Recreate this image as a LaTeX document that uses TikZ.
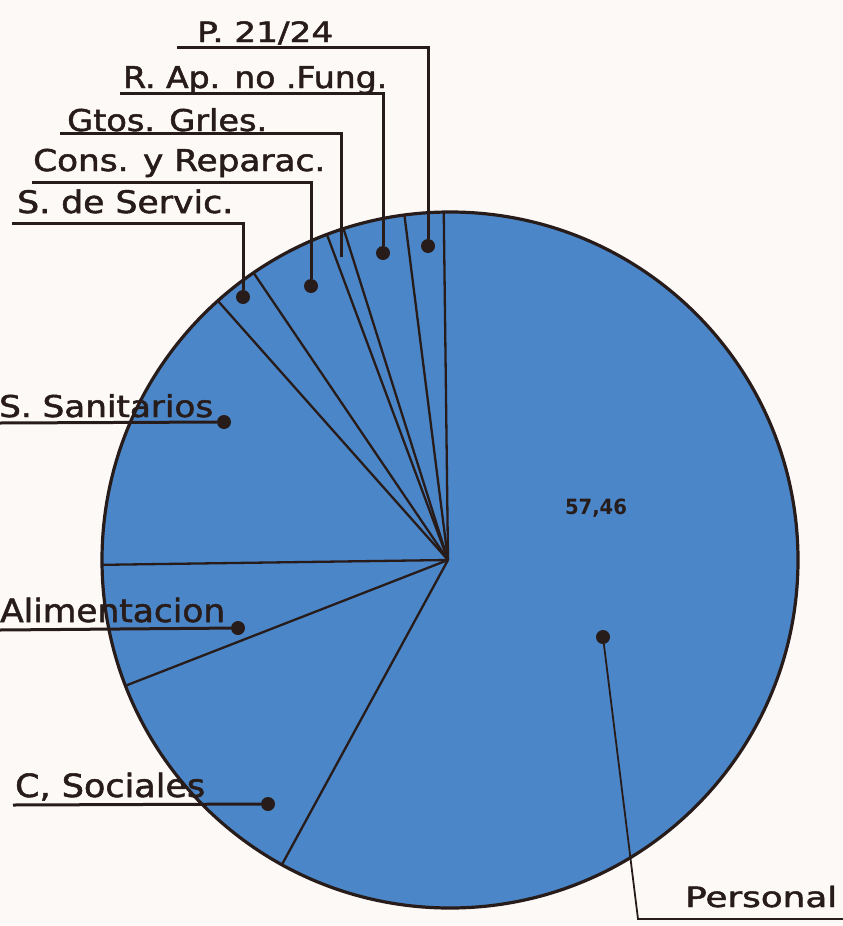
\documentclass[tikz,border=0pt]{standalone}
\usepackage{fontspec}
\setmainfont{DejaVu Sans}
\newfontfamily\labfont[FakeBold=1.6]{DejaVu Sans}
\usepackage{graphicx}
\definecolor{pieblue}{RGB}{74,134,200}
\definecolor{ink}{RGB}{40,28,26}
\definecolor{paper}{RGB}{252,249,247}
\newcommand{\lab}[3]{\resizebox{#2}{\height}{\labfont\fontsize{#1}{#1}\selectfont #3}}
\begin{document}
\begin{tikzpicture}[x=1pt,y=-1pt,
  leader/.style={draw=ink, line width=3pt},
  spoke/.style={draw=ink, line width=2.3pt},
  rim/.style={draw=ink, line width=3.2pt},
  lbl/.style={anchor=base west, inner sep=0pt, text=ink},
  dotmark/.style={circle, fill=ink, inner sep=0pt, minimum size=14pt}]
\useasboundingbox (0,0) rectangle (843,926);
\fill[paper] (0,0) rectangle (843,926);

% pie
\node[circle, fill=pieblue, inner sep=0pt, minimum size=696pt] (pie) at (450,560) {};
\coordinate (c) at (448,560);
\begin{scope}
  \clip (450,560) circle[radius=347];
  \foreach \a in {-180.8,-131.6,-124.1,-110.4,-107.5,-97.2,-90.7,-241.4,-201.3}
    \draw[spoke] (c) -- ++(\a:420);
\end{scope}
\draw[rim] (450,560) circle[radius=348];

% value
\node[inner sep=0pt, text=ink] (val) at (596,508) {\resizebox{62pt}{\height}{\fontsize{21}{21}\selectfont\bfseries 57,46}};

% dots
\node[dotmark] (dP)  at (428,246) {};
\node[dotmark] (dR)  at (383,253) {};
\coordinate    (dG)  at (341,257);
\node[dotmark] (dC)  at (311,286) {};
\node[dotmark] (dS)  at (243,297) {};
\node[dotmark] (dSS) at (224,422) {};
\node[dotmark] (dA)  at (238,628) {};
\node[dotmark] (dCS) at (268,804) {};
\node[dotmark] (dPe) at (603,637) {};

% underline starts
\coordinate (uP)  at (177,47);
\coordinate (uR)  at (120,93);
\coordinate (uG)  at (60,133);
\coordinate (uC)  at (32,182);
\coordinate (uS)  at (12,223);
\coordinate (uSS) at (0,423);
\coordinate (uA)  at (0,630);
\coordinate (uCS) at (13,805);
\coordinate (kPe) at (638,919);
\coordinate (ePe) at (843,919);

% leaders
\draw[leader] (uP) -| (dP);
\draw[leader] (uR) -| (dR);
\draw[leader] (uG) -| (dG);
\draw[leader] (uC) -| (dC);
\draw[leader] (uS) -| (dS);
\draw[leader] (uSS) -- (dSS);
\draw[leader] (uA) -- (dA);
\draw[leader] (uCS) -- (dCS);
\draw[draw=ink, line width=1.8pt] (dPe) -- (kPe) -- (ePe);

% labels
\node[lbl] (tP)  at (197,42)  {\lab{28}{136pt}{P. 21/24}};
\node[lbl] (tR)  at (123,88)  {\lab{30}{264pt}{R. Ap. no .Fung.}};
\node[lbl] (tG)  at (67,131)  {\lab{30}{200pt}{Gtos. Grles.}};
\node[lbl] (tC)  at (33,171)  {\lab{30}{292pt}{Cons. y Reparac.}};
\node[lbl] (tS)  at (17,213)  {\lab{31}{216pt}{S. de Servic.}};
\node[lbl] (tSS) at (-1,417)  {\lab{30}{214pt}{S. Sanitarios}};
\node[lbl] (tA)  at (0,622)   {\lab{32}{225pt}{Alimentacion}};
\node[lbl] (tCS) at (15,797)  {\lab{32}{190pt}{C, Sociales}};
\node[lbl] (tPe) at (685,907) {\lab{28}{152pt}{Personal}};
\end{tikzpicture}
\end{document}
